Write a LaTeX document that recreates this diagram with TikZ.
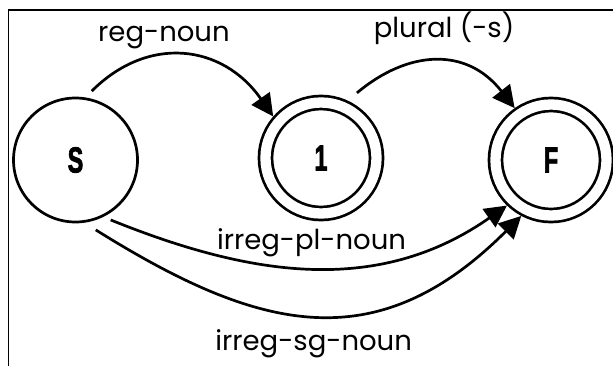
\documentclass[tikz,border=0pt]{standalone}
\usepackage{fontspec}
\setmainfont{Poppins}
\newfontfamily\statefont{Liberation Sans}[BoldFeatures={FakeBold=2.5}]
\usetikzlibrary{arrows.meta}

\begin{document}
\begin{tikzpicture}[x=1pt, y=1pt,
				->,
				>={Triangle[length=22pt,width=22pt]},
				line width=2.7pt,
				state/.style={circle, draw, minimum size=124pt, inner sep=0pt,
					font=\statefont\bfseries\fontsize{36}{36}\selectfont},
				final/.style={state, minimum size=111pt, double, double distance=10.3pt, outer sep=7.85pt},
				lbl/.style={font=\fontsize{27.5}{27.5}\selectfont, anchor=base}]
				\useasboundingbox (0,-365) rectangle (613,0);
				\draw[-, line width=1.3pt] (8.6,-380) -- (8.6,-10) -- (630,-10);
				\node at (75.5,-160) (s) [state] {\scalebox{0.65}[1]{S}};
				\node at (321,-158) (one) [final] {\scalebox{0.65}[1]{1}};
				\node at (551,-160) (f) [final] {\scalebox{0.65}[1]{F}};
				\draw[shorten <=9pt] (s.81) to [out=45, in=125, looseness=1.2] node[lbl, pos=0.4, yshift=14.4pt] {reg-noun} (one.139);
				\draw[shorten <=12pt] (one.65) to [out=40, in=128, looseness=1.2] node[lbl, pos=0.55, yshift=25pt] {plural (-s)} (f.125);
				\draw[shorten <=8pt] (s.-64) to [out=-22, in=215] node[lbl, yshift=17.9pt] {irreg-pl-noun} (f.226);
				\draw[shorten <=13.5pt] (s.-82) to [out=-32, in=225, looseness=1.2] node[lbl, yshift=-35.5pt] {irreg-sg-noun} (f.242);
			\end{tikzpicture}
\end{document}
